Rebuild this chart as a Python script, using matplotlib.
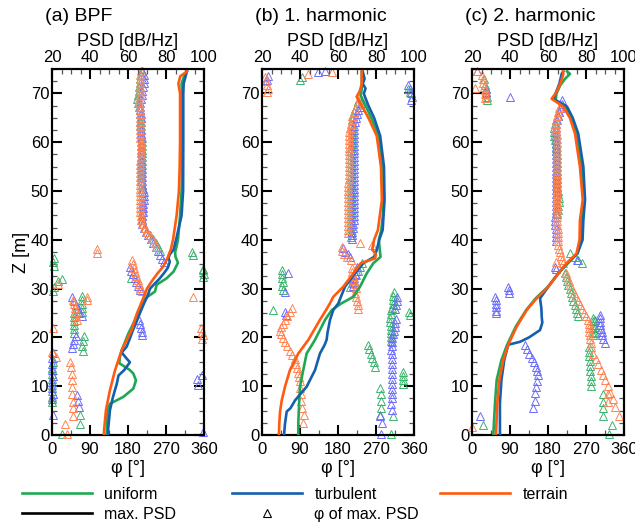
import matplotlib
matplotlib.use("Agg")
import matplotlib.pyplot as plt
from matplotlib.lines import Line2D
from matplotlib.ticker import MultipleLocator

plt.rcParams['font.family'] = ['Liberation Sans', 'DejaVu Sans']

# ---------------- data ----------------
panel_titles = ["(a) BPF", "(b) 1. harmonic", "(c) 2. harmonic"]
case_names = ["uniform", "turbulent", "terrain"]

# max. PSD profiles: (Z [m], PSD [dB/Hz])
bpf_uniform_psd = [(0, 48.8), (3, 48.9), (5.1, 49.3), (6.4, 50.5), (7.8, 57.5), (9.5, 62.8), (11.2, 64.2),
                   (12.6, 62.8), (13.3, 61), (14.2, 57.5), (14.7, 55.4), (16.1, 55.8), (17.4, 56.7),
                   (20.8, 60.2), (23, 63), (25, 65.3), (27.7, 68), (29.4, 74.2), (30.8, 75.1), (32.1, 80.3),
                   (33.5, 84), (35.3, 86.3), (36.5, 85), (37.5, 84.8), (38.5, 85.5), (40, 86.3), (45, 87.4),
                   (50, 88.2), (55, 88.4), (60, 88.5), (65, 88.6), (70, 88.4), (72, 88.2), (73.5, 89.5), (74.5, 91)]
bpf_turbulent_psd = [(0, 49.5), (1, 49.5), (5.1, 50.5), (7.8, 52.1), (10.5, 54.1), (12.2, 55), (13.3, 58),
                     (14.9, 61), (15.8, 59), (16.9, 56.7), (18.1, 59.3), (20, 61.2), (21.5, 62.6), (23, 64.3),
                     (25, 66.3), (27, 68.5), (28.5, 70.3), (30, 71.6), (32, 76.5), (33.2, 79), (34.3, 81),
                     (35.5, 82), (36.3, 81.3), (37, 82), (38, 84), (40, 85.3), (45, 88.2), (50, 89), (60, 89.1),
                     (70, 89.1), (72, 89.3), (73.5, 90.3), (74.5, 91)]
bpf_terrain_psd = [(0, 47.3), (1, 47.4), (5.1, 48.4), (9.2, 50.5), (13.3, 53.2), (17.4, 56.7), (21.5, 61.9),
                   (25, 64.8), (28, 68), (30, 70), (31.5, 72.5), (33, 75.3), (34.5, 78.5), (36, 80.5),
                   (38, 82.5), (40, 83.7), (45, 85.6), (50, 86.8), (55, 87.2), (60, 87.4), (70, 87.4),
                   (72, 86.5), (73.5, 87.5), (74.5, 91)]

h1_uniform_psd = [(0, 39.1), (2.3, 39.1), (7.1, 39.6), (9.9, 40), (13.3, 41.7), (16.7, 43.5), (19.5, 47.9),
                  (23.6, 53.2), (25.6, 56.7), (27, 61.9), (28.3, 68), (30.4, 71.6), (33.1, 75.1), (35.2, 78.6),
                  (36.5, 82.4), (37.9, 82), (40, 81.5), (42, 82.8), (45, 83.6), (48.2, 84), (55, 83.5),
                  (61.3, 81.5), (65, 77.5), (67.5, 74.5), (69.5, 72), (71, 72.5), (73, 72.5), (74.5, 72.5)]
h1_turbulent_psd = [(0, 31.6), (2.3, 32.1), (4.8, 33), (5.5, 35), (7.1, 37.4), (9.9, 43.5), (13.3, 47.9),
                    (16.7, 50.5), (18.5, 53), (19.5, 54), (21, 54.5), (23.6, 55.8), (25.6, 57.5), (27, 60.2),
                    (28, 61.2), (30.4, 63.7), (33.1, 68.9), (35.2, 73.3), (36.5, 79), (37.9, 80.4), (40, 81.7),
                    (42, 83.5), (48.2, 84.5), (55, 84.2), (61.3, 82.2), (65, 79), (67.5, 76), (69.5, 74),
                    (70, 73.6), (71, 74.5), (72, 73), (73, 74), (74.5, 73)]
h1_terrain_psd = [(0, 28.9), (2.3, 29.1), (4.8, 29.5), (7.1, 30.4), (9.9, 32.1), (13.3, 34.7), (16.7, 39.1),
                  (19.5, 44.4), (23.6, 50.5), (25.6, 53.7), (27, 55.8), (28.3, 57.5), (30.4, 62.8), (33.1, 68),
                  (35.2, 72), (36.2, 79.5), (37, 80), (38, 78), (40, 79), (42, 81), (48.2, 83.1), (55, 82.6),
                  (61.3, 80.4), (65, 76), (67.5, 72.5), (69.3, 69.8), (70.5, 71.5), (72, 72.5), (74.5, 72.5)]

h2_uniform_psd = [(0, 31.2), (6.5, 32.1), (11.3, 33), (15.4, 35.5), (18.5, 38.5), (22.2, 43), (25.6, 48.5),
                  (28, 53.5), (30.4, 60), (33.1, 65.4), (35.2, 70.5), (37.2, 75.5), (40, 77.5), (44, 77.7),
                  (48.2, 78.8), (55, 77.7), (61.8, 75), (65, 72.5), (67.3, 69), (68.5, 64), (70, 64.5),
                  (71.7, 66.5), (73, 69), (74, 71.6), (74.5, 70)]
h2_turbulent_psd = [(0, 34.7), (6.5, 34.7), (11.3, 35.5), (15.4, 37), (18.5, 39.1), (19.1, 45.3), (20, 50),
                    (21.5, 55.8), (23, 57), (24.2, 56.7), (26, 56.5), (28, 55.8), (30.4, 60.2), (33.1, 65.4),
                    (35.2, 70), (37.2, 75.5), (40, 78.2), (44, 78.6), (48.2, 79.5), (55, 78.6), (61.8, 75.9),
                    (65, 73), (67.3, 70), (68.9, 62.8), (70.5, 64.5), (72, 66), (74, 67.2), (74.5, 68)]
h2_terrain_psd = [(0, 32.6), (6.5, 33.3), (11.3, 34.4), (15.4, 36.5), (18.5, 39.1), (22.2, 43.5), (25.6, 48.8),
                  (28, 54), (30.4, 60.2), (33.1, 65.4), (35.2, 69.8), (37.2, 75), (40, 76.6), (44, 76.8),
                  (48.2, 78.3), (55, 76.8), (61.8, 74.2), (65, 71.5), (67.3, 68), (68.9, 61.9), (70, 64),
                  (72, 66.5), (74, 68.1), (74.5, 68)]

# phase of max. PSD: (Z [m], phi [deg])
bpf_uniform_phase = [(74.5, 212), (73.7, 210), (72.9, 209), (72.1, 208), (71.3, 207), (70.5, 205), (69.7, 203),
    (68.9, 202), (68.1, 203), (67.3, 206), (66.5, 208), (65.7, 209), (64.9, 210), (64.1, 210), (63.3, 211),
    (62.5, 211), (61.7, 211), (60.9, 212), (60.1, 212), (59.3, 212), (58.5, 212), (57.7, 212), (56.9, 212),
    (56.1, 212), (55.3, 212), (54.5, 211), (53.7, 211), (52.9, 211), (52.1, 211), (51.3, 212), (50.5, 212),
    (49.7, 212), (48.9, 212), (48.1, 213), (47.3, 213), (46.5, 213), (45.7, 213), (44.9, 212), (44.1, 213),
    (43.3, 216), (42.5, 220), (41.7, 226), (40.9, 233), (40.1, 240), (39.3, 246), (38.5, 251), (37.7, 255),
    (37.4, 331), (36.9, 334), (36.2, 5), (35.4, 3), (34.6, 4), (34.0, 357), (33.8, 358), (33.0, 359),
    (32.4, 358), (32.2, 186), (32.0, 23), (31.6, 15), (30.3, 5), (29.5, 2),
    (28.5, 72), (27.7, 71), (26.9, 70), (26.1, 71), (25.3, 71),
    (25.0, 53), (24.2, 52), (23.4, 52), (22.6, 51), (21.8, 52), (21.0, 52),
    (20.2, 75), (19.2, 73), (18.2, 72), (17.2, 73),
    (15.0, 2), (13.8, 1), (12.6, 0), (11.4, 1), (10.2, 0), (9.0, 0), (7.8, 1), (6.8, 0),
    (4.1, 66), (2.3, 66), (0.3, 23)]
bpf_turbulent_phase = [(74.5, 214), (73.7, 218), (72.9, 219), (72.1, 218), (71.3, 216), (70.5, 214),
    (69.7, 212), (68.9, 210), (68.1, 209), (67.3, 209), (66.5, 209), (65.7, 210), (64.9, 210), (64.1, 209),
    (63.3, 209), (62.5, 210), (61.7, 210), (60.9, 210), (60.1, 211), (59.3, 211), (58.5, 211), (57.7, 211),
    (56.9, 211), (56.1, 211), (55.3, 211), (54.5, 212), (53.7, 212), (52.9, 212), (52.1, 213), (51.3, 214),
    (50.5, 216), (49.7, 218), (48.9, 218), (48.1, 217), (47.3, 216), (46.5, 216), (45.7, 215), (44.9, 214),
    (44.1, 213), (43.3, 214), (42.5, 217), (41.7, 222), (40.9, 228), (40.1, 234), (39.3, 240), (38.5, 246),
    (37.7, 251), (36.9, 256), (36.1, 261), (35.4, 265),
    (34.5, 185), (33.7, 188), (32.9, 192), (32.1, 196), (31.3, 200), (30.5, 204), (29.7, 208),
    (28.3, 47), (27.5, 51), (26.7, 56), (25.9, 61), (25.1, 65), (24.3, 70),
    (23.6, 207), (22.8, 209), (22.0, 211), (21.2, 213), (20.5, 214),
    (20.3, 56), (19.5, 53), (18.7, 50), (17.9, 47),
    (16.9, 2), (15.7, 0), (14.5, 1), (13.3, 0), (12.1, 2), (10.9, 1), (9.7, 0), (8.5, 2), (7.4, 1),
    (8.2, 60), (7.0, 62), (5.8, 63), (4.0, 2), (0.6, 358), (12.3, 355), (11.4, 343), (10.2, 345)]
bpf_terrain_phase = [(74.5, 210), (73.7, 209), (72.9, 208), (72.1, 208), (71.3, 209), (70.5, 209), (69.7, 208),
    (68.9, 207), (68.1, 207), (67.3, 208), (66.5, 208), (65.7, 208), (64.9, 209), (64.1, 209), (63.3, 209),
    (62.5, 209), (61.7, 209), (60.9, 209), (60.1, 210), (59.3, 210), (58.5, 210), (57.7, 210), (56.9, 210),
    (56.1, 209), (55.3, 209), (54.5, 209), (53.7, 209), (52.9, 209), (52.1, 209), (51.3, 209), (50.5, 209),
    (49.7, 209), (48.9, 208), (48.1, 208), (47.3, 208), (46.5, 208), (45.7, 209), (44.9, 210), (44.1, 211),
    (43.3, 215), (42.5, 220), (41.7, 226), (40.9, 232), (40.1, 238), (39.3, 243), (38.5, 247),
    (35.8, 189), (35.0, 191), (34.2, 194), (33.4, 197), (32.6, 200), (31.8, 203), (31.0, 206), (30.2, 209),
    (29.6, 212), (37.3, 106), (38.1, 106), (30.9, 14), (28.3, 334), (28.3, 83), (27.6, 83),
    (27.6, 50), (26.8, 53), (26.0, 55), (25.2, 57), (24.4, 58), (23.6, 59),
    (22.0, 352), (21.2, 356), (20.4, 358), (19.6, 355), (22.0, 3), (17.0, 0), (16.0, 10),
    (15.0, 43), (14.0, 45), (12.6, 47), (11.3, 47), (9.9, 47), (8.5, 48), (6.8, 50), (5.5, 50), (3.8, 49),
    (2.3, 31), (0.3, 35)]

h1_uniform_phase = [(72.7, 90), (73.4, 95), (71.0, 346), (70.3, 350),
    (68.5, 228), (67.7, 224), (66.9, 220), (66.1, 217), (65.3, 215), (64.5, 214), (63.7, 213), (62.9, 212),
    (62.1, 212), (61.3, 212), (60.5, 212), (59.7, 212), (58.9, 211), (58.1, 211), (57.3, 211), (56.5, 211),
    (55.7, 211), (54.9, 211), (54.1, 211), (53.3, 211), (52.5, 211), (51.7, 211), (50.9, 211), (50.1, 211),
    (49.3, 211), (48.5, 211), (47.7, 211), (46.9, 211), (46.1, 211), (45.3, 211), (44.5, 211), (43.7, 210),
    (42.9, 210), (42.1, 210), (41.3, 210), (40.5, 210),
    (35.2, 236), (34.4, 232), (33.6, 227), (32.8, 222), (32.0, 216), (31.2, 212), (30.4, 208),
    (33.8, 47), (33.0, 48), (32.2, 48), (31.4, 49), (30.6, 48), (29.8, 50), (25.6, 27),
    (18.5, 252), (17.6, 254), (16.7, 257), (15.8, 261), (14.9, 265), (14.0, 268),
    (9.7, 280), (8.3, 281), (6.9, 281), (5.5, 281), (4.1, 280),
    (25.6, 306), (24.8, 305), (24.0, 304), (23.2, 304), (22.4, 305), (21.6, 305), (20.8, 305), (20.0, 306),
    (19.2, 306), (29.3, 312), (28.5, 311), (27.7, 310), (26.9, 310), (26.1, 309),
    (12.9, 334), (12.0, 335), (11.2, 335), (10.4, 334), (3.8, 311), (0.3, 306), (25.2, 349), (24.6, 350)]
h1_turbulent_phase = [(73.5, 14), (72.7, 12), (74.4, 133), (74.6, 150),
    (71.7, 346), (70.9, 350), (70.1, 352), (69.3, 355), (68.6, 354),
    (68.1, 235), (67.3, 231), (66.5, 227), (65.7, 224), (64.9, 222), (64.1, 220), (63.3, 219), (62.5, 219),
    (61.7, 219), (60.9, 219), (60.1, 219), (59.3, 219), (58.5, 219), (57.7, 219), (56.9, 219), (56.1, 219),
    (55.3, 219), (54.5, 219), (53.7, 219), (52.9, 218), (52.1, 218), (51.3, 218), (50.5, 219), (49.7, 219),
    (48.9, 219), (48.1, 219), (47.3, 218), (46.5, 218), (45.7, 218), (44.9, 218), (44.1, 217), (43.3, 216),
    (42.5, 215), (41.7, 214), (40.9, 213), (40.1, 212),
    (38.3, 192), (37.6, 197), (37.0, 203), (36.4, 209),
    (34.5, 224), (33.7, 222), (32.9, 221), (32.1, 219), (31.3, 218), (30.5, 216),
    (33.1, 62), (29.3, 55), (25.2, 54), (24.6, 56),
    (23.8, 318), (23.0, 316), (22.2, 314), (21.4, 312), (20.6, 310), (19.8, 309), (19.0, 308), (18.2, 307),
    (17.4, 306), (16.5, 307), (15.5, 308), (14.5, 308), (13.5, 307), (12.5, 308), (11.5, 307), (10.5, 307),
    (9.5, 307), (8.5, 308), (7.5, 307), (6.3, 306), (5.1, 307),
    (3.8, 279), (2.4, 284), (0.3, 283),
    (28.3, 320), (27.5, 319), (26.7, 318), (25.9, 316)]
h1_terrain_phase = [(73.3, 8), (72.5, 10), (71.7, 12), (71.0, 14), (70.3, 12), (74.3, 165), (74.0, 110),
    (69.3, 232), (68.5, 229), (67.7, 225), (66.9, 221), (66.1, 217), (65.3, 214), (64.5, 212), (63.7, 210),
    (62.9, 208), (62.1, 207), (61.3, 206), (60.5, 206), (59.7, 206), (58.9, 206), (58.1, 206), (57.3, 206),
    (56.5, 206), (55.7, 205), (54.9, 205), (54.1, 205), (53.3, 205), (52.5, 205), (51.7, 204), (50.9, 204),
    (50.1, 204), (49.3, 204), (48.5, 204), (47.7, 204), (46.9, 204), (46.1, 204), (45.3, 204), (44.5, 204),
    (43.7, 204), (42.9, 204), (42.1, 204), (41.3, 204),
    (39.3, 232), (39.0, 260), (38.5, 190), (37.8, 189), (37.1, 195), (36.4, 202), (35.8, 210),
    (34.2, 212), (33.4, 214), (32.6, 216), (31.8, 218), (31.0, 220), (30.2, 222),
    (29.0, 221), (28.2, 223), (27.4, 225), (26.6, 227), (25.8, 228),
    (26.0, 70), (25.2, 66), (24.4, 60), (23.6, 55), (22.8, 50), (22.1, 46), (21.4, 43), (20.6, 45), (19.8, 50),
    (19.0, 55), (18.2, 60), (17.3, 66), (16.4, 72), (15.5, 77), (14.6, 81), (13.7, 84), (12.8, 86), (11.9, 88),
    (11.0, 90), (9.7, 91), (8.3, 92), (6.9, 93), (5.5, 94), (4.1, 99), (2.4, 98)]

h2_uniform_phase = [(71.7, 31), (70.9, 33), (70.1, 34), (69.3, 35), (68.6, 35), (73.0, 28),
    (66.1, 207), (65.3, 203), (64.5, 200), (63.7, 196), (62.9, 195), (62.1, 195), (61.3, 195), (60.5, 196),
    (59.7, 198), (58.9, 199), (58.1, 200), (57.3, 201), (56.5, 201), (55.7, 201), (54.9, 201), (54.1, 202),
    (53.3, 202), (52.5, 202), (51.7, 202), (50.9, 202), (50.1, 203), (49.3, 204), (48.5, 205), (47.7, 205),
    (46.9, 204), (46.1, 203), (45.3, 202),
    (37.2, 232), (36.5, 243), (35.8, 252), (35.2, 260),
    (33.1, 220), (32.3, 222), (31.5, 225), (30.7, 228), (29.9, 231), (29.1, 234), (28.3, 237), (27.5, 240),
    (26.7, 243), (25.9, 246), (25.1, 248), (24.3, 250),
    (24.0, 286), (23.3, 287), (22.6, 287), (21.9, 287), (21.2, 287), (20.5, 287), (23.6, 291), (22.2, 291),
    (20.9, 291),
    (18.1, 276), (17.1, 277), (16.1, 278), (15.1, 279), (14.1, 279), (13.1, 280), (12.1, 281), (11.1, 282),
    (10.0, 283), (8.5, 311), (6.8, 311), (5.5, 311), (3.8, 311), (2.0, 332), (0.3, 325), (2.0, 27)]
h2_turbulent_phase = [(74.5, 11), (71.0, 33), (70.3, 34), (69.3, 90),
    (68.6, 212), (67.8, 212), (67.0, 209), (66.2, 206), (65.4, 203), (64.6, 201), (63.8, 200), (63.0, 200),
    (62.2, 200), (61.4, 200), (60.6, 200), (59.8, 200), (59.0, 199), (58.2, 199), (57.4, 199), (56.6, 199),
    (55.8, 199), (55.0, 199), (54.2, 199), (53.4, 199), (52.6, 199), (51.8, 199), (51.0, 199), (50.2, 199),
    (49.4, 199), (48.6, 199), (47.8, 199), (47.0, 199), (46.2, 198), (45.4, 198), (44.6, 197), (43.8, 197),
    (43.0, 197), (42.2, 198), (41.4, 199), (40.6, 200), (39.8, 200),
    (35.9, 249), (34.5, 197), (34.0, 199),
    (30.4, 86), (29.7, 87), (29.0, 88), (28.3, 55), (27.6, 56), (26.9, 57), (26.2, 58), (25.5, 57), (24.9, 58),
    (18.5, 125), (17.6, 130), (16.7, 136), (15.8, 141), (14.9, 146), (14.0, 151), (13.1, 155), (12.2, 156),
    (11.1, 153), (9.9, 152), (8.6, 150), (7.0, 149), (5.5, 145),
    (24.6, 302), (23.9, 302), (23.2, 303), (22.5, 304), (21.8, 305), (21.1, 307), (20.4, 309), (19.7, 311),
    (18.9, 314), (3.8, 19)]
h2_terrain_phase = [(74.5, 13), (73.8, 23), (73.0, 25), (72.2, 27), (71.4, 29), (70.6, 30), (69.8, 31),
    (69.0, 31), (71.2, 8),
    (67.0, 205), (66.2, 203), (65.4, 201), (64.6, 200), (63.8, 200), (63.0, 200), (62.2, 200), (61.4, 201),
    (60.6, 201), (59.8, 201), (59.0, 202), (58.2, 202), (57.4, 202), (56.6, 202), (55.8, 202), (55.0, 202),
    (54.2, 202), (53.4, 202), (52.6, 202), (51.8, 202), (51.0, 202), (50.2, 202), (49.4, 202), (48.6, 202),
    (47.8, 202), (47.0, 202), (46.2, 202), (45.4, 202), (44.6, 202), (43.8, 202), (43.0, 202), (42.2, 203),
    (41.4, 203), (40.6, 203), (39.8, 203), (39.0, 204), (38.2, 205), (37.4, 208), (36.6, 211), (35.9, 214),
    (35.2, 216), (35.5, 200),
    (33.1, 222), (32.3, 225), (31.5, 229), (30.7, 233), (29.9, 237), (29.1, 241), (28.3, 246), (27.5, 251),
    (26.7, 256), (25.9, 261), (25.1, 266), (24.3, 271), (23.6, 275), (22.8, 276), (22.0, 277), (21.2, 278),
    (20.4, 279), (19.6, 280), (18.8, 281), (18.0, 283), (16.7, 287), (15.6, 293), (14.5, 299), (13.4, 305),
    (12.3, 310), (11.2, 316), (10.0, 322), (8.7, 328), (7.3, 333), (5.8, 339), (3.8, 347), (1.7, 0),
    (8.5, 323), (6.8, 323)]

psd_profiles = [
    [bpf_uniform_psd, bpf_turbulent_psd, bpf_terrain_psd],
    [h1_uniform_psd, h1_turbulent_psd, h1_terrain_psd],
    [h2_uniform_psd, h2_turbulent_psd, h2_terrain_psd],
]
phase_profiles = [
    [bpf_uniform_phase, bpf_turbulent_phase, bpf_terrain_phase],
    [h1_uniform_phase, h1_turbulent_phase, h1_terrain_phase],
    [h2_uniform_phase, h2_turbulent_phase, h2_terrain_phase],
]

# ---------------- style ----------------
line_colors = ['#1fa854', '#1560ad', '#ff5a0f']
tri_colors = ['#3cb36e', '#6b6bff', '#ff8454']

W, H = 635, 526
fig = plt.figure(figsize=(W / 100, H / 100), dpi=100)
ax_lefts = [52, 262, 472]
ax_w = 152
ax_top, ax_bot = 69, 435

for i in range(3):
    ax = fig.add_axes([ax_lefts[i] / W, 1 - ax_bot / H, ax_w / W, (ax_bot - ax_top) / H])
    ax.set_xlim(0, 360)
    ax.set_ylim(0, 75)
    for k in range(3):
        z, ph = zip(*phase_profiles[i][k])
        ax.plot(ph, z, ls='none', marker='^', ms=5.2, mfc='none', mec=tri_colors[k],
                mew=0.7, clip_on=False, zorder=2)
    axt = ax.twiny()
    axt.set_xlim(20, 100)
    for k in range(3):
        z, p = zip(*psd_profiles[i][k])
        axt.plot(p, z, color=line_colors[k], lw=1.9, solid_joinstyle='round', zorder=3)

    ax.xaxis.set_major_locator(MultipleLocator(90))
    ax.xaxis.set_minor_locator(MultipleLocator(45))
    ax.yaxis.set_major_locator(MultipleLocator(10))
    ax.yaxis.set_minor_locator(MultipleLocator(2.5))
    axt.xaxis.set_major_locator(MultipleLocator(20))
    axt.xaxis.set_minor_locator(MultipleLocator(5))

    ax.tick_params(axis='x', which='both', direction='in', bottom=True, top=False,
                   labelsize=12, pad=5)
    ax.tick_params(axis='y', which='both', direction='in', left=True, right=True,
                   labelsize=12, pad=2)
    ax.tick_params(which='major', length=7, width=1.5)
    ax.tick_params(which='minor', length=3.5, width=0.9, color='#555555')
    axt.tick_params(axis='x', which='both', direction='in', top=True, bottom=False,
                    labelsize=12, pad=3)
    axt.tick_params(which='major', length=7, width=1.5)
    axt.tick_params(which='minor', length=3.5, width=0.9, color='#555555')

    for a in (ax, axt):
        for s in a.spines.values():
            s.set_linewidth(1.5)

    ax.set_xlabel('φ [°]', fontsize=13, labelpad=2)
    axt.set_xlabel('PSD [dB/Hz]', fontsize=13, labelpad=3)
    if i == 0:
        ax.set_ylabel('Z [m]', fontsize=13, labelpad=0.5)
    ax.text(-7 / ax_w, 1 + 53 / (ax_bot - ax_top), panel_titles[i], transform=ax.transAxes,
            ha='left', va='center', fontsize=14)

# ---------------- legend ----------------
leg_kw = dict(loc='upper left', frameon=False, fontsize=11.5, borderpad=0, borderaxespad=0,
              handlelength=4.4, handletextpad=0.75, labelspacing=0.3)
h_uni = Line2D([], [], color=line_colors[0], lw=1.9)
h_max = Line2D([], [], color='black', lw=1.9)
h_tur = Line2D([], [], color=line_colors[1], lw=1.9)
h_phi = Line2D([], [], ls='none', marker='^', ms=6, mfc='none', mec='black', mew=0.8)
h_ter = Line2D([], [], color=line_colors[2], lw=1.9)
leg_top = 1 - 487 / H
fig.legend([h_uni, h_max], [case_names[0], 'max. PSD'], bbox_to_anchor=(22 / W, leg_top), **leg_kw)
fig.legend([h_tur, h_phi], [case_names[1], 'φ of max. PSD'], bbox_to_anchor=(232 / W, leg_top), **leg_kw)
fig.legend([h_ter], [case_names[2]], bbox_to_anchor=(440 / W, leg_top), **leg_kw)

fig.savefig('out.png', dpi=100)
